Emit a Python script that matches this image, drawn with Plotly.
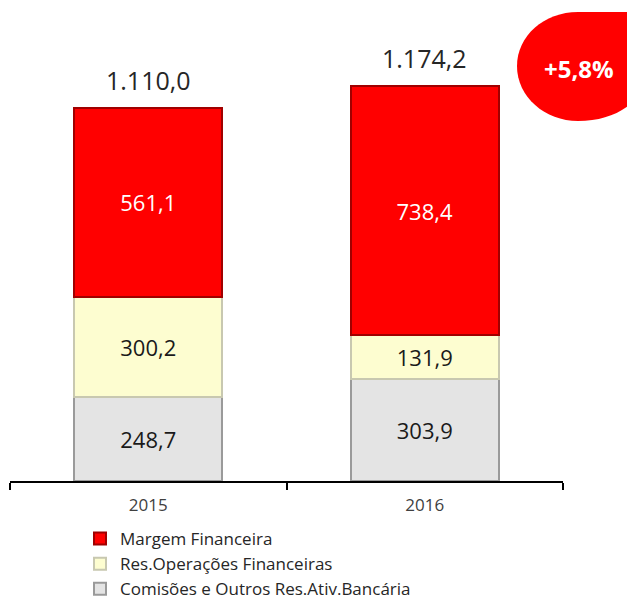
import plotly.graph_objects as go

years = ["2015", "2016"]
comissoes = [248.7, 303.9]
res_oper = [300.2, 131.9]
margem = [561.1, 738.4]
totals = [1110.0, 1174.2]
total_labels = ["1.110,0", "1.174,2"]
growth_label = "+5,8%"

def fmt(v):
    return f"{v:.1f}".replace(".", ",")

FONT = "Open Sans"
OFF = 8                      # page body margin
W, H = 635 - OFF, 601 - OFF
# plot area in screen pixels
L, R, T, B = 10, 563, 20, 481
def px(x):
    return (x - L) / (R - L)
def py(y):
    return (B - y) / (B - T)

fig = go.Figure()
fig.add_trace(go.Bar(
    x=years, y=comissoes, name="Comisões e Outros Res.Ativ.Bancária",
    marker=dict(color="#E4E4E4", line=dict(color="#9A9A9A", width=2)),
    text=[fmt(v) for v in comissoes], textposition="inside", insidetextanchor="middle",
    textfont=dict(color="#1a1a1a", size=22, family=FONT)))
fig.add_trace(go.Bar(
    x=years, y=res_oper, name="Res.Operações Financeiras",
    marker=dict(color="#FDFDD0", line=dict(color="#C8C8B0", width=2)),
    text=[fmt(v) for v in res_oper], textposition="inside", insidetextanchor="middle",
    textfont=dict(color="#1a1a1a", size=22, family=FONT)))
fig.add_trace(go.Bar(
    x=years, y=margem, name="Margem Financeira",
    marker=dict(color="#FF0000", line=dict(color="#A00000", width=2)),
    text=[fmt(v) for v in margem], textposition="inside", insidetextanchor="middle",
    textfont=dict(color="white", size=22, family=FONT)))

for i, (tot, lab) in enumerate(zip(totals, total_labels)):
    fig.add_annotation(x=i, y=tot, text=lab, showarrow=False, yanchor="bottom",
                       xanchor="center", yshift=9,
                       font=dict(size=25, color="#262626", family=FONT))

pts = [(640, 12), (578, 12), (544, 12), (517, 36), (517, 66), (517, 97), (545, 121),
       (578, 121), (605, 121), (625, 112), (640, 95)]
c = [f"{px(x):.4f},{py(y):.4f}" for x, y in pts]
path = (f"M {c[0]} L {c[1]} C {c[2]} {c[3]} {c[4]} C {c[5]} {c[6]} {c[7]} "
        f"C {c[8]} {c[9]} {c[10]} Z")
fig.add_shape(type="path", xref="paper", yref="paper", path=path,
              fillcolor="#FF0000", line=dict(width=0), layer="above")
fig.add_annotation(xref="paper", yref="paper", x=px(579), y=py(68),
                   xanchor="center", yanchor="middle",
                   text="<b>" + growth_label + "</b>", showarrow=False,
                   font=dict(size=24, color="white", family=FONT))

fig.update_layout(
    width=W, height=H,
    margin=dict(l=L - OFF, r=W - (R - OFF), t=T - OFF, b=H - (B - OFF), pad=0),
    barmode="stack", bargap=0.465,
    plot_bgcolor="white", paper_bgcolor="white",
    showlegend=True,
    legend=dict(traceorder="reversed", xref="paper", x=px(80), xanchor="left",
                yref="container", y=1 - (521 - OFF) / H, yanchor="top",
                bgcolor="rgba(0,0,0,0)",
                font=dict(size=17, color="#262626", family=FONT),
                itemwidth=30, tracegroupgap=0),
    xaxis=dict(type="category", range=[-0.5, 1.5], showline=True, linecolor="black",
               linewidth=1.5, ticks="outside", tickson="boundaries", ticklen=7,
               tickcolor="black", tickwidth=1.5, ticklabelstandoff=8,
               tickfont=dict(size=17, color="#404040", family=FONT)),
    yaxis=dict(range=[0, (B - T) / 0.336], visible=False),
)
fig.write_html("out.html")
